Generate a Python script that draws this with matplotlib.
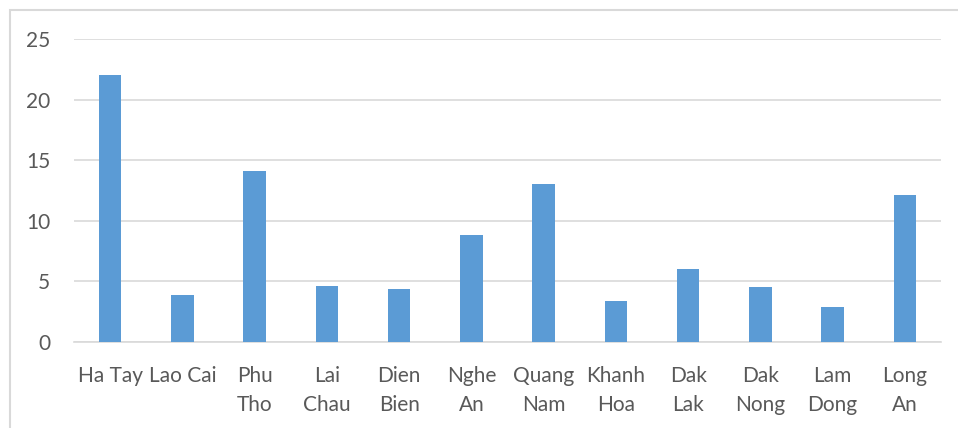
import matplotlib.pyplot as plt
from matplotlib.patches import Rectangle
import numpy as np

# provinces and values
provinces = ["Ha Tay", "Lao Cai", "Phu\nTho", "Lai\nChau", "Dien\nBien", "Nghe\nAn",
             "Quang\nNam", "Khanh\nHoa", "Dak\nLak", "Dak\nNong", "Lam\nDong", "Long\nAn"]
values = [22.0, 3.9, 14.1, 4.65, 4.35, 8.8, 13.0, 3.35, 6.0, 4.5, 2.85, 12.1]
yticks = [0, 5, 10, 15, 20, 25]

plt.rcParams['font.family'] = ['Lato', 'DejaVu Sans']
text_color = '#595959'
grid_color = '#D9D9D9'

fig = plt.figure(figsize=(9.58, 4.28), dpi=100)
# outer chart frame (cropped at right and bottom like the screenshot)
fig.patches.append(Rectangle((10 / 958, -0.1), 1.0, 1 - 10 / 428 + 0.1,
                             transform=fig.transFigure, fill=False,
                             edgecolor=grid_color, linewidth=1.5))

ax = fig.add_axes([74 / 958, 1 - 342 / 428, (941 - 74) / 958, (342 - 39) / 428])
x = np.arange(len(provinces))
ax.bar(x, values, width=0.31, color='#5B9BD5', zorder=3)

ax.set_xlim(-0.5, len(provinces) - 0.5)
ax.set_ylim(0, 25)
ax.set_yticks(yticks)
ax.yaxis.grid(True, color=grid_color, linewidth=1.2, zorder=0)
for s in ['top', 'right', 'left']:
    ax.spines[s].set_visible(False)
ax.spines['bottom'].set_color(grid_color)
ax.spines['bottom'].set_linewidth(1.2)
ax.tick_params(axis='both', length=0, labelsize=15, colors=text_color)
ax.tick_params(axis='y', pad=17)
ax.tick_params(axis='x', pad=17.5)
ax.set_xticks(x)
ax.set_xticklabels(provinces, linespacing=1.55, va='top')

fig.savefig('out.png', dpi=100)
